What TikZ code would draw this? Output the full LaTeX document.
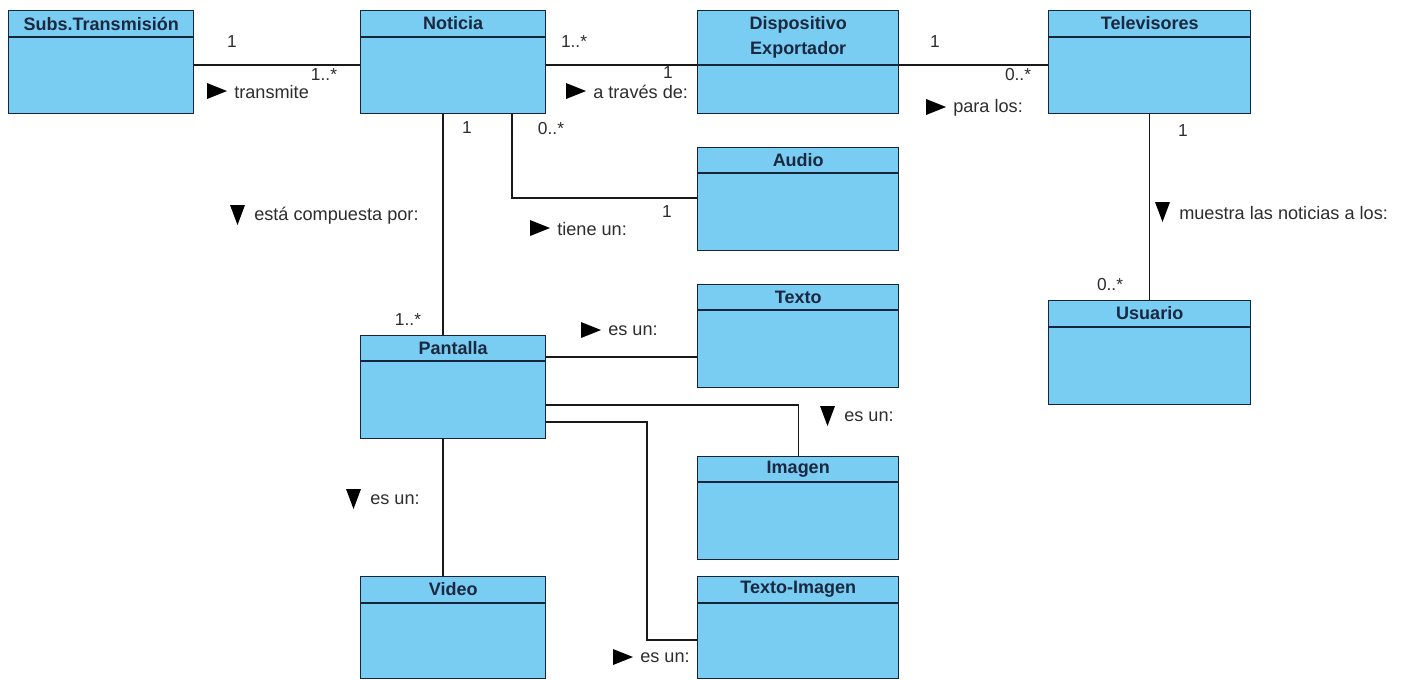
\documentclass[tikz,border=0pt]{standalone}
\usepackage{fontspec}
\setmainfont{Liberation Sans}
\usetikzlibrary{calc}

\definecolor{classfill}{RGB}{121,204,242}
\definecolor{classedge}{RGB}{24,36,58}
\definecolor{titletext}{RGB}{26,40,64}
\definecolor{labeltext}{RGB}{45,45,45}

\tikzset{
  classbox/.style={draw=classedge, fill=classfill, line width=1.1pt, inner sep=0pt, rectangle},
  classline/.style={draw=classedge, line width=1.1pt},
  classtitle/.style={font=\fontsize{13.5}{19}\selectfont\bfseries, text=titletext, align=center, inner sep=0pt},
  assoc/.style={draw=black!90, line width=1pt},
  mult/.style={font=\fontsize{13}{15}\selectfont, text=labeltext, inner sep=0pt},
  rolelabel/.style={font=\fontsize{13.6}{15}\selectfont, text=labeltext, inner sep=0pt, anchor=west},
}

% class box: name, left x, top y, width, height, header height, title
\newcommand\umlclass[7]{%
  \node[classbox, minimum width=#4*0.75pt, minimum height=#5*0.75pt, anchor=north west] (#1) at (#2,#3) {};
  \draw[classline] ([yshift=-#6*0.75pt]#1.north west) -- ([yshift=-#6*0.75pt]#1.north east);
  \node[classtitle] (#1-title) at ($(#1.north)!0.5!([yshift=-#6*0.75pt]#1.north)$) {#7};
}

% association name with a right-pointing triangle: name, triangle x, y, text
\newcommand\rightname[4]{%
  \coordinate (#1-tri) at (#2,#3);
  \fill[black] (#1-tri) ++(0,-8) -- ++(20,8) -- ++(-20,8) -- cycle;
  \node[rolelabel] (#1) at ($(#1-tri)+(27,1)$) {#4};
}
% association name with a down-pointing triangle: name, triangle x, y, text
\newcommand\downname[4]{%
  \coordinate (#1-tri) at (#2,#3);
  \fill[black] (#1-tri) ++(0,-10) -- ++(15,0) -- ++(-7.5,20) -- cycle;
  \node[rolelabel] (#1) at ($(#1-tri)+(24,1)$) {#4};
}

\begin{document}
\begin{tikzpicture}[x=0.75pt, y=-0.75pt]
  \fill[white] (0,0) rectangle (1405,679);
  \useasboundingbox (0,0) rectangle (1405,679);

  % classes
  \umlclass{subs}{8}{10}{185}{103}{27}{Subs.Transmisión}
  \umlclass{noticia}{360}{10}{185}{103}{27}{Noticia}
  \umlclass{disp}{697}{10}{201}{103}{55}{Dispositivo\\Exportador}
  \umlclass{tele}{1048}{10}{202}{103}{27}{Televisores}
  \umlclass{audio}{697}{147}{201}{103}{26}{Audio}
  \umlclass{texto}{697}{284}{201}{103}{26}{Texto}
  \umlclass{pantalla}{360}{335}{185}{103}{26}{Pantalla}
  \umlclass{usuario}{1048}{300}{202}{104}{27}{Usuario}
  \umlclass{imagen}{697}{456}{201}{103}{26}{Imagen}
  \umlclass{video}{360}{576}{185}{102}{27}{Video}
  \umlclass{tximg}{697}{576}{201}{102}{27}{Texto-Imagen}

  % associations
  \draw[assoc] (subs.east |- 0,65) -- (noticia.west |- 0,65);
  \draw[assoc] (noticia.east |- 0,65) -- (disp.west |- 0,65);
  \draw[assoc] (disp.east |- 0,65) -- (tele.west |- 0,65);
  \draw[assoc] (noticia.south -| 443,0) -- (pantalla.north -| 443,0);
  \draw[assoc] (noticia.south -| 512,0) |- (audio.west |- 0,198);
  \draw[assoc] (tele.south) -- (usuario.north);
  \draw[assoc] (pantalla.east |- 0,357) -- (texto.west |- 0,357);
  \draw[assoc] (pantalla.east |- 0,405) -| (imagen.north);
  \coordinate (tibend) at (647,640);
  \draw[assoc] (pantalla.east |- 0,422) -| (tibend) -- (tximg.west |- tibend);
  \draw[assoc] (pantalla.south -| 443,0) -- (video.north -| 443,0);

  % multiplicities
  \node[mult] (m1) at (232,42) {1};
  \node[mult] (m2) at (324,75) {1..*};
  \node[mult] (m3) at (574,42) {1..*};
  \node[mult] (m4) at (668,73) {1};
  \node[mult] (m5) at (935,42) {1};
  \node[mult] (m6) at (1018,75) {0..*};
  \node[mult] (m7) at (467,128) {1};
  \node[mult] (m8) at (551,129) {0..*};
  \node[mult] (m9) at (667,212) {1};
  \node[mult] (m10) at (1183,131) {1};
  \node[mult] (m11) at (1110,285) {0..*};
  \node[mult] (m12) at (408,320) {1..*};

  % association names
  \rightname{n-transmite}{207}{91}{transmite}
  \rightname{n-traves}{566}{91}{a través de:}
  \rightname{n-para}{926}{107}{para los:}
  \rightname{n-tiene}{530}{228}{tiene un:}
  \downname{n-compuesta}{230}{215}{está compuesta por:}
  \downname{n-muestra}{1155}{212}{muestra las noticias a los:}
  \rightname{n-texto}{581}{330}{es un:}
  \downname{n-imagen}{820}{416}{es un:}
  \downname{n-video}{346}{499}{es un:}
  \rightname{n-tximg}{613}{657}{es un:}
\end{tikzpicture}
\end{document}
